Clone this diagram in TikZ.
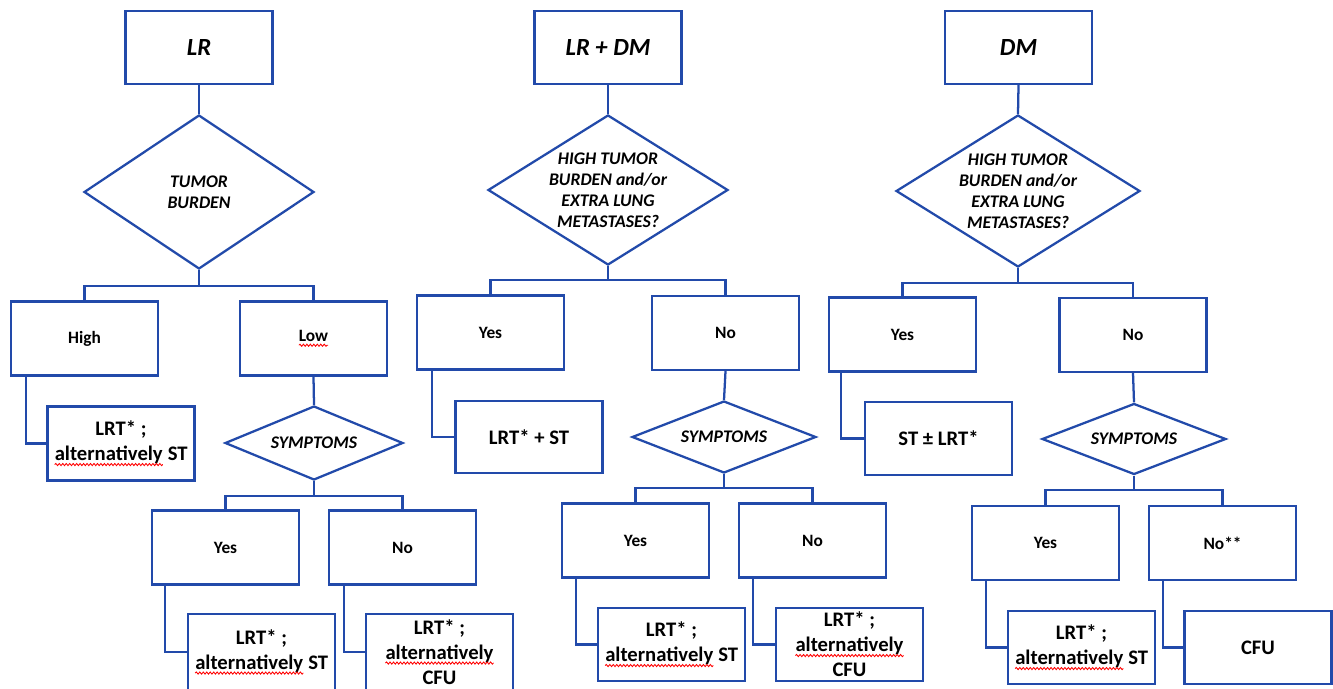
\documentclass[tikz,border=0pt]{standalone}
\usepackage{fontspec}
\setmainfont{Carlito}
\usetikzlibrary{shapes.geometric,decorations.pathmorphing}
\definecolor{lineblue}{RGB}{34,74,170}
\newcommand\wavy[1]{\tikz[baseline=(W.base)]{\node[shape=rectangle,draw=none,fill=none,inner sep=0pt,outer sep=0pt,minimum width=0pt,minimum height=0pt,anchor=base,text=black](W){#1};\draw[red,line width=0.65pt,decorate,decoration={snake,amplitude=0.8pt,segment length=2.6pt}]([yshift=-2.8pt]W.base west)--([yshift=-2.8pt]W.base east);}}
\tikzset{
  wire/.style={draw=lineblue, line width=1.7pt},
  box/.style={draw=lineblue, line width=1.7pt, rectangle, minimum width=110.25pt, minimum height=55.5pt, inner sep=0pt, align=center, text=black, font=\bfseries\fontsize{13}{15.5}\selectfont},
  headbox/.style={box, minimum height=54.75pt, font=\bfseries\itshape\fontsize{18.5}{22}\selectfont},
  resbox/.style={box, font=\bfseries\fontsize{15.5}{18.8}\selectfont},
  dia/.style={diamond, draw=lineblue, line width=1.7pt, inner sep=0pt},
  dtext/.style={align=center, text=black, inner sep=0pt, font=\bfseries\itshape\fontsize{13.3}{15.75}\selectfont},
}
\begin{document}
\begin{tikzpicture}[x=0.75pt,y=-0.75pt]
\useasboundingbox[fill=white] (0,0) rectangle (1333,688);
% ---------- column 1: LR ----------
\node[headbox] (LR) at (199,47.5) {LR};
\node[dia, minimum width=172.5pt, minimum height=115.5pt, label={[dtext]center:TUMOR\\BURDEN}] (D1) at (199,192) {};
\node[box] (High) at (84.5,338.5) {High};
\node[box] (Low) at (313.5,338.5) {\wavy{Low}};
\node[resbox] (R1) at (121,443.5) {LRT* ;\\\wavy{alternatively} ST};
\node[dia, minimum width=133.5pt, minimum height=55.5pt, label={[dtext]center:SYMPTOMS}] (S1) at (314,443) {};
\node[box] (Y1) at (225.5,547.5) {Yes};
\node[box] (N1) at (402.5,547.5) {No};
\node[resbox, minimum height=57pt] (R2) at (261.5,652) {LRT* ;\\\wavy{alternatively} ST};
\node[resbox, minimum height=57pt] (R3) at (439.5,652) {LRT* ;\\\wavy{alternatively}\\CFU};
\draw[wire] (LR.south) -- (D1.north);
\draw[wire] (D1.south) -- (D1.south |- 0,286) -| (High.north);
\draw[wire] (D1.south |- 0,286) -| (Low.north);
\draw[wire] ([xshift=12pt]High.south west) |- (R1.west);
\draw[wire] (Low.south) -- (S1.north);
\draw[wire] (S1.south) -- (S1.south |- 0,496) -| (Y1.north);
\draw[wire] (S1.south |- 0,496) -| (N1.north);
\draw[wire] ([xshift=10.5pt]Y1.south west) |- (R2.west);
\draw[wire] ([xshift=12pt]N1.south west) |- (R3.west);
% ---------- column 2: LR + DM ----------
\node[headbox] (LRDM) at (608,47.5) {LR + DM};
\node[dia, minimum width=180pt, minimum height=112.5pt, label={[dtext]center:HIGH TUMOR\\BURDEN and/or\\EXTRA LUNG\\METASTASES?}] (D2) at (608,190) {};
\node[box] (Y2) at (490.5,332.5) {Yes};
\node[box] (N2) at (725.5,333) {No};
\node[resbox, minimum height=54pt] (R4) at (529,437) {LRT* + ST};
\node[dia, minimum width=138pt, minimum height=54pt, label={[dtext]center:SYMPTOMS}] (S2) at (724,437) {};
\node[box] (Y3) at (635.5,540.5) {Yes};
\node[box] (N3) at (812.5,540.5) {No};
\node[resbox, minimum height=54.75pt] (R5) at (671.5,644.5) {LRT* ;\\\wavy{alternatively} ST};
\node[resbox, minimum height=54.75pt] (R6) at (849.5,644.5) {LRT* ;\\\wavy{alternatively}\\CFU};
\draw[wire] (LRDM.south) -- (D2.north);
\draw[wire] (D2.south) -- (D2.south |- 0,280) -| (Y2.north);
\draw[wire] (D2.south |- 0,280) -| (N2.north);
\draw[wire] ([xshift=12pt]Y2.south west) |- (R4.west);
\draw[wire] (N2.south) -- (S2.north);
\draw[wire] (S2.south) -- (S2.south |- 0,488) -| (Y3.north);
\draw[wire] (S2.south |- 0,488) -| (N3.north);
\draw[wire] ([xshift=11.25pt]Y3.south west) |- (R5.west);
\draw[wire] ([xshift=11.25pt]N3.south west) |- (R6.west);
% ---------- column 3: DM ----------
\node[headbox] (DM) at (1018.5,47.5) {DM};
\node[dia, minimum width=183pt, minimum height=114pt, label={[dtext]center:HIGH TUMOR\\BURDEN and/or\\EXTRA LUNG\\METASTASES?}] (D3) at (1018,191) {};
\node[box] (Y4) at (902.5,334.5) {Yes};
\node[box] (N4) at (1133,335) {No};
\node[resbox, minimum height=54.75pt] (R7) at (938.5,438.5) {ST ± LRT*};
\node[dia, minimum width=138pt, minimum height=53.25pt, label={[dtext]center:SYMPTOMS}] (S3) at (1134,439) {};
\node[box] (Y5) at (1045.5,543) {Yes};
\node[box] (N5) at (1222.5,543) {No**};
\node[resbox, minimum height=54.75pt] (R8) at (1081.5,647.5) {LRT* ;\\\wavy{alternatively} ST};
\node[resbox, minimum height=54.75pt] (R9) at (1258,647.5) {CFU};
\draw[wire] (DM.south) -- (D3.north);
\draw[wire] (D3.south) -- (D3.south |- 0,283) -| (Y4.north);
\draw[wire] (D3.south |- 0,283) -| (N4.north);
\draw[wire] ([xshift=9.75pt]Y4.south west) |- (R7.west);
\draw[wire] (N4.south) -- (S3.north);
\draw[wire] (S3.south) -- (S3.south |- 0,490) -| (Y5.north);
\draw[wire] (S3.south |- 0,490) -| (N5.north);
\draw[wire] ([xshift=11.25pt]Y5.south west) |- (R8.west);
\draw[wire] ([xshift=11.25pt]N5.south west) |- (R9.west);
\end{tikzpicture}
\end{document}
